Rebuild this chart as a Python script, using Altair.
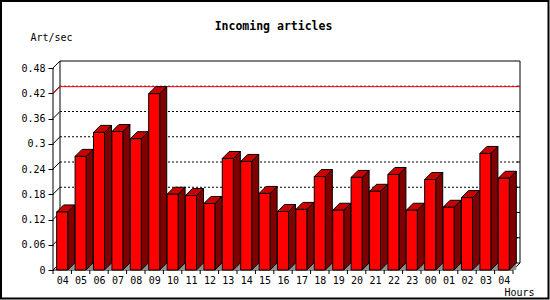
import json
import altair as alt
import pandas as pd

# ---------------- data ----------------
hours = ["04", "05", "06", "07", "08", "09", "10", "11", "12", "13", "14", "15",
         "16", "17", "18", "19", "20", "21", "22", "23", "00", "01", "02", "03", "04"]
rates = [0.138, 0.270, 0.327, 0.329, 0.312, 0.419, 0.180, 0.177, 0.158, 0.265,
         0.258, 0.182, 0.139, 0.144, 0.222, 0.142, 0.220, 0.187, 0.227, 0.142,
         0.215, 0.149, 0.172, 0.277, 0.218]
y_ticks = [0, 0.06, 0.12, 0.18, 0.24, 0.30, 0.36, 0.42, 0.48]
chart_title = "Incoming articles"
y_title = "Art/sec"
x_title = "Hours"

# ---------------- style / geometry ----------------
W, H = 467, 209
LEFT, TOP = 53, 61
DEPTH = 7                       # 3D depth in pixels
FONT = "DejaVu Sans Mono"
n = len(hours)
slot_px = (W - DEPTH) / n
dx = DEPTH / slot_px            # depth in x data units
ytop = y_ticks[-1]
dy = ytop / (H - DEPTH) * DEPTH  # depth in y data units
XMAX = n + dx
YMAX = ytop + dy
BL, BR = 0.2, 0.8               # bar front face within slot

xs = alt.Scale(domain=[0, XMAX], nice=False, zero=False)
ys = alt.Scale(domain=[0, YMAX], nice=False, zero=False)

label_expr = json.dumps(hours) + "[floor(datum.value)]"
XAX = alt.Axis(
    values=[i + 0.5 for i in range(n)], labelExpr=label_expr,
    ticks=False, domain=False, grid=False, labelPadding=5,
    labelFlush=False, labelOverlap=False, labelFont=FONT, labelFontSize=10,
    labelColor="black", title=x_title, titleFont=FONT, titleFontSize=10,
    titleFontWeight="normal", titleColor="black", titleAlign="left",
    titleBaseline="middle", titleAnchor="start", titleX=451, titleY=22)
YAX = alt.Axis(
    values=y_ticks, format=".2~f", domain=False, grid=False, ticks=True,
    tickSize=5, tickColor="black", labelPadding=3, labelFont=FONT,
    labelFontSize=10, labelColor="black", title=y_title, titleAngle=0,
    titleFont=FONT, titleFontSize=10, titleFontWeight="normal",
    titleColor="black", titleAlign="left", titleBaseline="middle",
    titleAnchor="start", titleX=-23, titleY=-24)


def X(f):
    return alt.X(f, scale=xs, axis=XAX)


def Y(f):
    return alt.Y(f, scale=ys, axis=YAX)


# ---------------- derived tables ----------------
front = pd.DataFrame({
    "bar": list(range(n)),
    "x": [i + BL for i in range(n)],
    "x2": [i + BR for i in range(n)],
    "y": rates,
    "y2": [0.0] * n,
})

side_rows, top_rows, floor_rows = [], [], []
for i, v in enumerate(rates):
    side_rows += [dict(bar=i, x=i + BR, y=v, y2=0.0),
                  dict(bar=i, x=i + BR + dx, y=v + dy, y2=dy)]
    top_rows += [dict(bar=i, y=v, x=i + BL, x2=i + BR),
                 dict(bar=i, y=v + dy, x=i + BL + dx, x2=i + BR + dx)]
    floor_rows += [dict(bar=i, x=i + BR, y=0.0, y2=0.0),
                   dict(bar=i, x=i + BR + dx, y=dy, y2=0.0)]
side = pd.DataFrame(side_rows)
topf = pd.DataFrame(top_rows)
floor = pd.DataFrame(floor_rows)

solid = [
    (0, 0, 0, ytop),                 # front y axis
    (0, 0, n, 0),                    # front floor edge
    (dx, YMAX, XMAX, YMAX),          # back top
    (dx, dy, dx, YMAX),              # back left
    (XMAX, dy, XMAX, YMAX),          # back right
    (dx, dy, XMAX, dy),              # back bottom
    (n, 0, XMAX, dy),                # floor right diagonal
]
for t in y_ticks:
    solid.append((0, t, dx, t + dy))
for t in y_ticks[1:-1]:
    solid.append((XMAX - 3 / slot_px, t + dy, XMAX, t + dy))
solid_df = pd.DataFrame(solid, columns=["x", "y", "x2", "y2"])

grid_df = pd.DataFrame([(dx, t + dy, XMAX, t + dy) for t in y_ticks[1:-1]],
                       columns=["x", "y", "x2", "y2"])
m = max(rates)
red_df = pd.DataFrame([(0, m, dx, m + dy), (dx, m + dy, XMAX, m + dy)],
                      columns=["x", "y", "x2", "y2"])
xtick_df = pd.DataFrame({"x": list(range(n + 1))})
one = pd.DataFrame({"t": [chart_title]})

# ---------------- layers ----------------
back = alt.Chart(solid_df).mark_rule(color="black", strokeWidth=1).encode(
    x=X("x:Q"), y=Y("y:Q"), x2="x2:Q", y2="y2:Q")
grid = alt.Chart(grid_df).mark_rule(color="black", strokeWidth=1, strokeDash=[2, 2]).encode(
    x=X("x:Q"), y=Y("y:Q"), x2="x2:Q", y2="y2:Q")
red = alt.Chart(red_df).mark_rule(color="#ff0000", strokeWidth=1).encode(
    x=X("x:Q"), y=Y("y:Q"), x2="x2:Q", y2="y2:Q")

floor_l = alt.Chart(floor).mark_area(color="#909090").encode(
    x=X("x:Q"), y=Y("y:Q"), y2="y2:Q", detail="bar:N")
side_l = alt.Chart(side).mark_area(color="#800000", stroke="black", strokeWidth=1).encode(
    x=X("x:Q"), y=Y("y:Q"), y2="y2:Q", detail="bar:N")
top_l = alt.Chart(topf).mark_area(orient="horizontal", color="#cc0000",
                                  stroke="black", strokeWidth=1).encode(
    y=Y("y:Q"), x=X("x:Q"), x2="x2:Q", detail="bar:N")
front_l = alt.Chart(front).mark_rect(color="#ff0000", stroke="black", strokeWidth=1).encode(
    x=X("x:Q"), x2="x2:Q", y=Y("y:Q"), y2="y2:Q")

xticks = alt.Chart(xtick_df).mark_rule(color="black", strokeWidth=1).encode(
    x=X("x:Q"), y=alt.value(H), y2=alt.value(H + 4))

frame = alt.Chart(one).mark_rect(fill=None, stroke="black", strokeWidth=2).encode(
    x=alt.value(1 - LEFT), x2=alt.value(548.5 - LEFT),
    y=alt.value(1 - TOP), y2=alt.value(298.5 - TOP))

title_l = alt.Chart(one).mark_text(font=FONT, fontSize=11.5, fontWeight="bold",
                                   color="black", align="center", baseline="middle").encode(
    text="t:N", x=alt.value(273.5 - LEFT), y=alt.value(27 - TOP))

chart = alt.layer(back, grid, red, floor_l, side_l, top_l, front_l, xticks, frame, title_l).properties(
    width=W, height=H,
    padding={"left": LEFT, "top": TOP, "right": 550 - LEFT - W, "bottom": 300 - TOP - H},
    autosize=alt.AutoSizeParams(type="none"),
    background="white",
).configure_view(stroke=None)

chart.save("out.html", embed_options={"renderer": "svg", "actions": False})
